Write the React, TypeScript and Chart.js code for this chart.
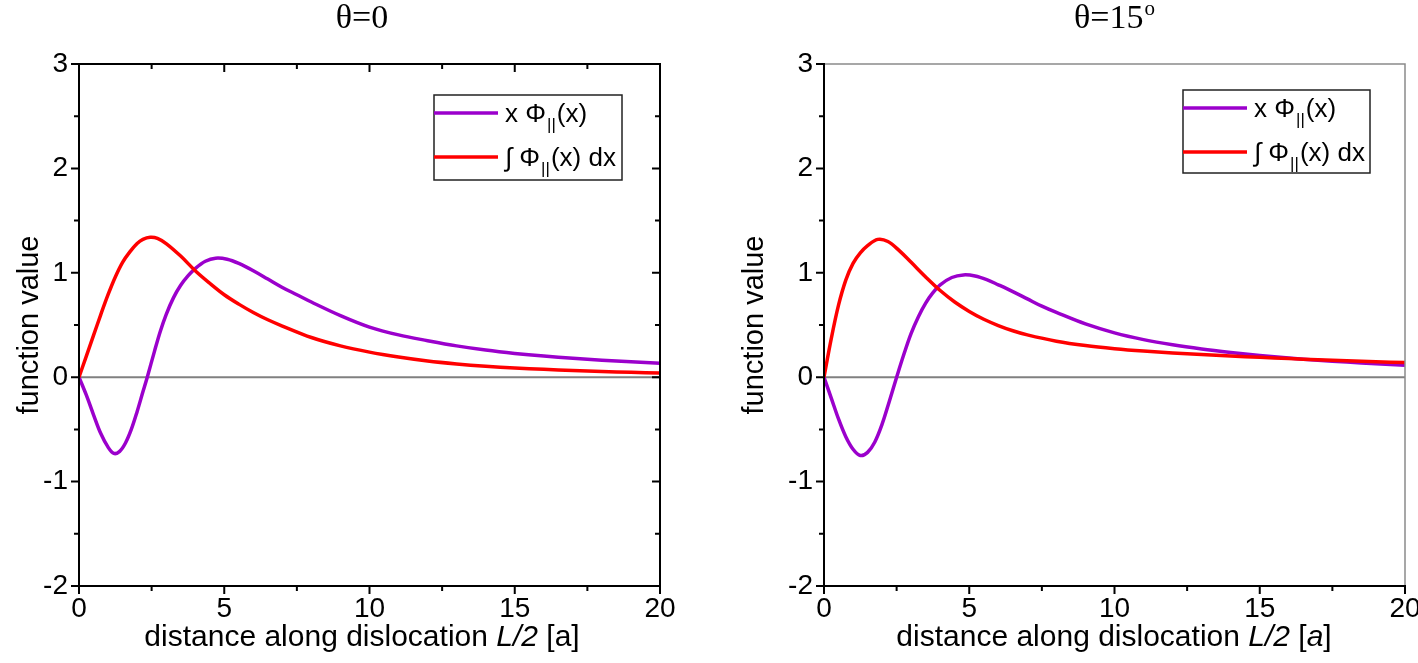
import React, { useEffect, useRef } from "react";
import { Chart, registerables } from "chart.js";
Chart.register(...registerables);

// ---------- data ----------
const xTickValues = [0, 5, 10, 15, 20];
const yTickValues = [-2, -1, 0, 1, 2, 3];
const seriesLabels = ["x Φ||(x)", "∫ Φ||(x) dx"];
const panelTitles = ["θ=0", "θ=15"];

// θ = 0 : x Φ||(x)
const leftPhiX = [0, 0.25, 0.5, 0.75, 1, 1.2, 1.4, 1.6, 1.8, 2, 2.2, 2.35, 2.6, 2.8, 3, 3.25, 3.5, 3.75, 4, 4.35, 4.7, 5.1, 5.5, 6, 6.5, 7, 7.5, 8, 9, 10, 11, 12, 13, 14, 15, 16, 17, 18, 19, 20];
const leftPhiY = [0, -0.17, -0.36, -0.54, -0.67, -0.73, -0.71, -0.63, -0.5, -0.33, -0.14, 0, 0.25, 0.44, 0.6, 0.76, 0.88, 0.97, 1.04, 1.11, 1.14, 1.13, 1.09, 1.02, 0.94, 0.86, 0.79, 0.72, 0.59, 0.48, 0.405, 0.35, 0.3, 0.26, 0.228, 0.202, 0.181, 0.163, 0.147, 0.133];
// θ = 0 : ∫ Φ||(x) dx
const leftIntX = [0, 0.25, 0.5, 0.75, 1, 1.25, 1.5, 1.75, 2, 2.2, 2.45, 2.7, 3, 3.5, 4, 4.5, 5, 5.5, 6, 6.5, 7, 8, 9, 10, 11, 12, 13, 14, 15, 16, 17, 18, 19, 20];
const leftIntY = [0, 0.2, 0.4, 0.6, 0.79, 0.96, 1.1, 1.2, 1.28, 1.32, 1.34, 1.33, 1.28, 1.16, 1.02, 0.9, 0.79, 0.7, 0.62, 0.55, 0.49, 0.38, 0.3, 0.24, 0.193, 0.155, 0.127, 0.105, 0.088, 0.075, 0.064, 0.055, 0.047, 0.04];

// θ = 15° : x Φ||(x)
const rightPhiX = [0, 0.25, 0.5, 0.75, 1, 1.25, 1.5, 1.75, 2, 2.25, 2.5, 2.75, 3, 3.25, 3.5, 3.75, 4, 4.4, 4.8, 5.2, 5.6, 6, 6.5, 7, 7.5, 8, 9, 10, 11, 12, 13, 14, 15, 16, 17, 18, 19, 20];
const rightPhiY = [0, -0.2, -0.4, -0.57, -0.69, -0.75, -0.72, -0.62, -0.45, -0.23, 0, 0.22, 0.42, 0.58, 0.71, 0.81, 0.885, 0.955, 0.98, 0.97, 0.935, 0.885, 0.82, 0.75, 0.68, 0.62, 0.51, 0.425, 0.36, 0.31, 0.27, 0.237, 0.208, 0.183, 0.163, 0.145, 0.129, 0.115];
// θ = 15° : ∫ Φ||(x) dx
const rightIntX = [0, 0.25, 0.5, 0.75, 1, 1.25, 1.5, 1.85, 2.2, 2.6, 3, 3.5, 4, 4.5, 5, 5.5, 6, 6.5, 7, 8, 9, 10, 11, 12, 13, 14, 15, 16, 17, 18, 19, 20];
const rightIntY = [0, 0.37, 0.69, 0.93, 1.09, 1.19, 1.26, 1.32, 1.3, 1.21, 1.1, 0.96, 0.83, 0.72, 0.63, 0.555, 0.495, 0.445, 0.405, 0.345, 0.303, 0.273, 0.25, 0.232, 0.217, 0.203, 0.19, 0.178, 0.167, 0.157, 0.148, 0.14];

// ---------- style ----------
const PURPLE = "#9B00CC";
const RED = "#FF0000";
const SANS = "'Liberation Sans', Arial, sans-serif";
const SERIF = "'Liberation Serif', 'Times New Roman', serif";
const W = 1418;
const H = 663;

type Seg = { t: string; italic?: boolean };

interface Panel {
  canvasLeft: number;
  canvasWidth: number;
  areaLeft: number;
  areaRight: number;
  areaTop: number;
  areaBottom: number;
  textCenter: number;
  title: string;
  titleSup?: string;
  xTitle: Seg[];
  yTitleX: number;
  legend: { x: number; y: number; w: number; h: number; rows: number[] };
  fullBox: boolean;
  phi: { x: number[]; y: number[] };
  int: { x: number[]; y: number[] };
}

const toPts = (xs: number[], ys: number[]) => xs.map((x, i) => ({ x, y: ys[i] }));

const panels: Panel[] = [
  {
    canvasLeft: 0,
    canvasWidth: 709,
    areaLeft: 79,
    areaRight: 660,
    areaTop: 64,
    areaBottom: 586,
    textCenter: 362,
    title: panelTitles[0],
    xTitle: [{ t: "distance along dislocation " }, { t: "L/2", italic: true }, { t: " [a]" }],
    yTitleX: 30,
    legend: { x: 434, y: 95, w: 188, h: 85, rows: [113, 157] },
    fullBox: true,
    phi: { x: leftPhiX, y: leftPhiY },
    int: { x: leftIntX, y: leftIntY },
  },
  {
    canvasLeft: 709,
    canvasWidth: 709,
    areaLeft: 824,
    areaRight: 1405,
    areaTop: 64,
    areaBottom: 586,
    textCenter: 1114,
    title: panelTitles[1],
    titleSup: "o",
    xTitle: [{ t: "distance along dislocation " }, { t: "L/2", italic: true }, { t: " [" }, { t: "a", italic: true }, { t: "]" }],
    yTitleX: 755,
    legend: { x: 1183, y: 90, w: 187, h: 83, rows: [108, 152] },
    fullBox: false,
    phi: { x: rightPhiX, y: rightPhiY },
    int: { x: rightIntX, y: rightIntY },
  },
];

function drawLabelWithSub(ctx: CanvasRenderingContext2D, x: number, baseline: number, pre: string, post: string) {
  ctx.font = `26px ${SANS}`;
  ctx.textAlign = "left";
  ctx.textBaseline = "alphabetic";
  ctx.fillText(pre, x, baseline);
  let cx = x + ctx.measureText(pre).width;
  ctx.font = `17px ${SANS}`;
  ctx.fillText("||", cx + 1, baseline + 8);
  cx += ctx.measureText("||").width + 2;
  ctx.font = `26px ${SANS}`;
  ctx.fillText(post, cx, baseline);
}

function makeDecor(p: Panel) {
  return {
    id: "decor",
    beforeDatasetsDraw(chart: any) {
      const { ctx, chartArea: a, scales } = chart;
      const y0 = scales.y.getPixelForValue(0);
      ctx.save();
      ctx.strokeStyle = "#808080";
      ctx.lineWidth = 2;
      ctx.beginPath();
      ctx.moveTo(a.left, y0);
      ctx.lineTo(a.right, y0);
      ctx.stroke();
      ctx.restore();
    },
    afterDatasetsDraw(chart: any) {
      const { ctx, chartArea: a, scales } = chart;
      const xs = scales.x;
      const ys = scales.y;
      const off = p.canvasLeft;
      ctx.save();
      // frame
      ctx.lineCap = "square";
      if (!p.fullBox) {
        ctx.strokeStyle = "#8a8a8a";
        ctx.lineWidth = 1.5;
        ctx.beginPath();
        ctx.moveTo(a.left, a.top);
        ctx.lineTo(a.right, a.top);
        ctx.lineTo(a.right, a.bottom);
        ctx.stroke();
      }
      ctx.strokeStyle = "#000";
      ctx.lineWidth = 2;
      ctx.beginPath();
      ctx.moveTo(a.left, a.top);
      ctx.lineTo(a.left, a.bottom);
      ctx.lineTo(a.right, a.bottom);
      if (p.fullBox) {
        ctx.lineTo(a.right, a.top);
        ctx.lineTo(a.left, a.top);
      }
      ctx.stroke();
      // ticks
      ctx.lineCap = "butt";
      ctx.lineWidth = 2;
      ctx.beginPath();
      for (let v = 0; v <= 20.001; v += 2.5) {
        const px = xs.getPixelForValue(v);
        const len = Math.abs(v % 5) < 1e-6 ? 8 : 5;
        ctx.moveTo(px, a.bottom);
        ctx.lineTo(px, a.bottom + len);
        if (p.fullBox && v > 0 && v < 20) {
          ctx.moveTo(px, a.top);
          ctx.lineTo(px, a.top + len);
        }
      }
      for (let v = -2; v <= 3.001; v += 0.5) {
        const py = ys.getPixelForValue(v);
        const len = Math.abs(v % 1) < 1e-6 ? 8 : 5;
        ctx.moveTo(a.left - len, py);
        ctx.lineTo(a.left, py);
        if (p.fullBox && v > -2 && v < 3) {
          ctx.moveTo(a.right - len, py);
          ctx.lineTo(a.right, py);
        }
      }
      ctx.stroke();

      // panel title
      const cx = p.textCenter - off;
      ctx.fillStyle = "#000";
      ctx.textBaseline = "alphabetic";
      ctx.font = `34px ${SERIF}`;
      const mw = ctx.measureText(p.title).width;
      let sw = 0;
      if (p.titleSup) {
        ctx.font = `21px ${SERIF}`;
        sw = ctx.measureText(p.titleSup).width;
      }
      const tx = cx - (mw + sw) / 2;
      ctx.font = `34px ${SERIF}`;
      ctx.textAlign = "left";
      ctx.fillText(p.title, tx, 28);
      if (p.titleSup) {
        ctx.font = `21px ${SERIF}`;
        ctx.fillText(p.titleSup, tx + mw + 1, 15);
      }

      // y title
      ctx.save();
      ctx.translate(p.yTitleX - off, (a.top + a.bottom) / 2);
      ctx.rotate(-Math.PI / 2);
      ctx.font = `29px ${SANS}`;
      ctx.textAlign = "center";
      ctx.textBaseline = "middle";
      ctx.fillText("function value", 0, 0);
      ctx.restore();

      // x title with mixed styles
      let total = 0;
      const widths = p.xTitle.map((s) => {
        ctx.font = `${s.italic ? "italic " : ""}30px ${SANS}`;
        const w = ctx.measureText(s.t).width;
        total += w;
        return w;
      });
      let sx = cx - total / 2;
      ctx.textAlign = "left";
      ctx.textBaseline = "alphabetic";
      p.xTitle.forEach((s, i) => {
        ctx.font = `${s.italic ? "italic " : ""}30px ${SANS}`;
        ctx.fillText(s.t, sx, 646);
        sx += widths[i];
      });

      // legend
      const L = p.legend;
      const lx = L.x - off;
      ctx.fillStyle = "#fff";
      ctx.fillRect(lx, L.y, L.w, L.h);
      ctx.strokeStyle = "#222";
      ctx.lineWidth = 1.5;
      ctx.strokeRect(lx, L.y, L.w, L.h);
      const cols = [PURPLE, RED];
      L.rows.forEach((ry, i) => {
        ctx.strokeStyle = cols[i];
        ctx.lineWidth = 3.5;
        ctx.beginPath();
        ctx.moveTo(lx, ry);
        ctx.lineTo(lx + 64, ry);
        ctx.stroke();
        ctx.fillStyle = "#000";
        const lab = seriesLabels[i];
        const k = lab.indexOf("||");
        drawLabelWithSub(ctx, lx + 71, ry + 9, lab.slice(0, k), lab.slice(k + 2));
      });
      ctx.restore();
    },
  };
}

function PanelChart({ p }: { p: Panel }) {
  const ref = useRef<HTMLCanvasElement>(null);
  useEffect(() => {
    if (!ref.current) return;
    const chart = new Chart(ref.current, {
      type: "line",
      data: {
        datasets: [
          {
            label: seriesLabels[1],
            data: toPts(p.int.x, p.int.y),
            borderColor: RED,
            borderWidth: 3.5,
            pointRadius: 0,
            tension: 0.35,
            fill: false,
          },
          {
            label: seriesLabels[0],
            data: toPts(p.phi.x, p.phi.y),
            borderColor: PURPLE,
            borderWidth: 3.5,
            pointRadius: 0,
            tension: 0.35,
            fill: false,
          },
        ],
      },
      options: {
        responsive: false,
        animation: false,
        events: [],
        layout: {
          padding: { top: p.areaTop, left: 0, right: p.canvasLeft + p.canvasWidth - p.areaRight, bottom: 0 },
        },
        plugins: { legend: { display: false }, tooltip: { enabled: false }, title: { display: false } },
        scales: {
          x: {
            type: "linear",
            min: 0,
            max: 20,
            afterBuildTicks: (s: any) => {
              s.ticks = xTickValues.map((v) => ({ value: v }));
            },
            grid: { display: false, drawTicks: false },
            border: { display: false },
            ticks: { color: "#000", font: { family: SANS, size: 28 }, padding: 6, maxRotation: 0, autoSkip: false },
            afterFit: (s: any) => {
              s.height = H - p.areaBottom;
              s.paddingLeft = 0;
              s.paddingRight = 0;
            },
          },
          y: {
            type: "linear",
            min: -2,
            max: 3,
            afterBuildTicks: (s: any) => {
              s.ticks = yTickValues.map((v) => ({ value: v }));
            },
            grid: { display: false, drawTicks: false },
            border: { display: false },
            ticks: { color: "#000", font: { family: SANS, size: 28 }, padding: 11, autoSkip: false },
            afterFit: (s: any) => {
              s.width = p.areaLeft - p.canvasLeft;
              s.paddingTop = 0;
              s.paddingBottom = 0;
            },
          },
        },
      } as any,
      plugins: [makeDecor(p)],
    });
    return () => chart.destroy();
  }, [p]);
  return (
    <canvas
      ref={ref}
      width={p.canvasWidth}
      height={H}
      style={{ position: "absolute", left: p.canvasLeft, top: 0, width: p.canvasWidth, height: H }}
    />
  );
}

export default function App() {
  return (
    <div style={{ position: "absolute", left: 0, top: 0, width: W, height: H, overflow: "hidden", background: "#fff" }}>
      {panels.map((p, i) => (
        <PanelChart key={i} p={p} />
      ))}
    </div>
  );
}
